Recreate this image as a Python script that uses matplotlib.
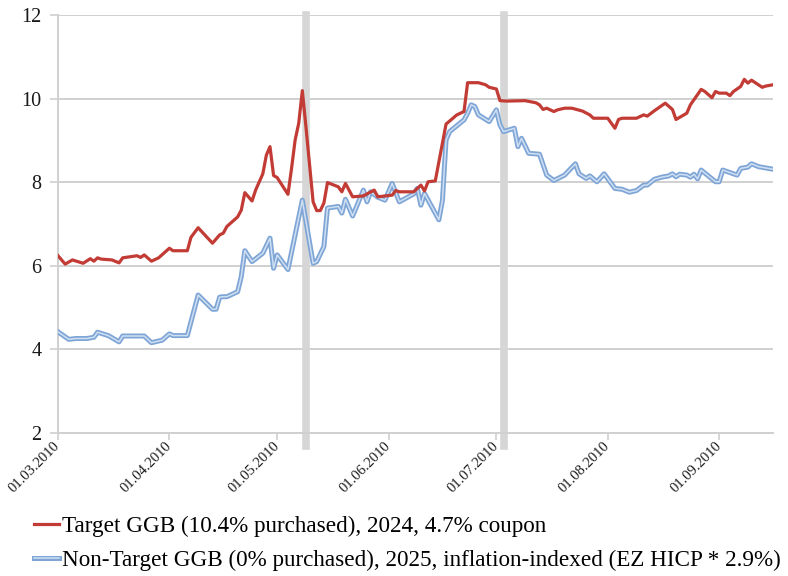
import matplotlib
matplotlib.use("Agg")
import matplotlib.pyplot as plt
import matplotlib.patheffects as pe
import pandas as pd

# ---- data ----
target_dates = [
    "2010-03-01", "2010-03-03", "2010-03-05", "2010-03-08", "2010-03-10", "2010-03-11",
    "2010-03-12", "2010-03-13", "2010-03-16", "2010-03-18", "2010-03-19", "2010-03-23",
    "2010-03-24", "2010-03-25", "2010-03-27", "2010-03-29", "2010-04-01", "2010-04-02",
    "2010-04-06", "2010-04-07", "2010-04-09", "2010-04-13", "2010-04-15", "2010-04-16",
    "2010-04-17", "2010-04-20", "2010-04-21", "2010-04-22", "2010-04-24", "2010-04-25",
    "2010-04-27", "2010-04-28", "2010-04-29", "2010-04-30", "2010-05-01", "2010-05-04",
    "2010-05-05", "2010-05-06", "2010-05-07", "2010-05-08", "2010-05-09", "2010-05-11",
    "2010-05-12", "2010-05-13", "2010-05-14", "2010-05-15", "2010-05-18", "2010-05-19",
    "2010-05-20", "2010-05-22", "2010-05-25", "2010-05-26", "2010-05-28", "2010-05-29",
    "2010-06-02", "2010-06-03", "2010-06-04", "2010-06-08", "2010-06-10", "2010-06-11",
    "2010-06-12", "2010-06-14", "2010-06-17", "2010-06-20", "2010-06-22", "2010-06-23",
    "2010-06-26", "2010-06-28", "2010-06-29", "2010-07-01", "2010-07-02", "2010-07-04",
    "2010-07-09", "2010-07-12", "2010-07-13", "2010-07-14", "2010-07-15", "2010-07-17",
    "2010-07-18", "2010-07-20", "2010-07-22", "2010-07-25", "2010-07-27", "2010-07-28",
    "2010-08-01", "2010-08-03", "2010-08-04", "2010-08-05", "2010-08-09", "2010-08-11",
    "2010-08-12", "2010-08-14", "2010-08-17", "2010-08-19", "2010-08-20", "2010-08-23",
    "2010-08-24", "2010-08-27", "2010-08-28", "2010-08-30", "2010-08-31", "2010-09-01",
    "2010-09-03", "2010-09-04", "2010-09-05", "2010-09-07", "2010-09-08", "2010-09-09",
    "2010-09-10", "2010-09-13", "2010-09-14", "2010-09-16",
]
target_yield = [
    6.24, 6.04, 6.14, 6.06, 6.17, 6.11,
    6.19, 6.16, 6.14, 6.07, 6.19, 6.24,
    6.20, 6.26, 6.11, 6.19, 6.42, 6.36,
    6.36, 6.68, 6.91, 6.54, 6.74, 6.78,
    6.94, 7.17, 7.33, 7.75, 7.55, 7.81,
    8.20, 8.65, 8.85, 8.16, 8.11, 7.71,
    8.33, 9.01, 9.41, 10.19, 9.33, 7.53,
    7.32, 7.32, 7.50, 7.99, 7.89, 7.77,
    7.97, 7.65, 7.67, 7.72, 7.81, 7.65,
    7.69, 7.80, 7.77, 7.77, 7.93, 7.79,
    8.01, 8.03, 9.39, 9.61, 9.69, 10.38,
    10.38, 10.33, 10.27, 10.23, 9.95, 9.94,
    9.95, 9.90, 9.85, 9.74, 9.77, 9.69,
    9.73, 9.77, 9.77, 9.70, 9.61, 9.53,
    9.53, 9.29, 9.50, 9.53, 9.53, 9.61,
    9.58, 9.71, 9.89, 9.74, 9.50, 9.65,
    9.85, 10.22, 10.17, 10.02, 10.17, 10.13,
    10.13, 10.07, 10.17, 10.29, 10.46, 10.37,
    10.44, 10.27, 10.30, 10.33,
]

nontarget_dates = [
    "2010-03-01", "2010-03-04", "2010-03-06", "2010-03-09", "2010-03-11", "2010-03-12",
    "2010-03-15", "2010-03-18", "2010-03-19", "2010-03-25", "2010-03-27", "2010-03-30",
    "2010-04-01", "2010-04-02", "2010-04-06", "2010-04-09", "2010-04-13", "2010-04-14",
    "2010-04-15", "2010-04-16", "2010-04-17", "2010-04-20", "2010-04-21", "2010-04-22",
    "2010-04-24", "2010-04-27", "2010-04-29", "2010-04-30", "2010-05-01", "2010-05-04",
    "2010-05-08", "2010-05-11", "2010-05-12", "2010-05-14", "2010-05-15", "2010-05-18",
    "2010-05-19", "2010-05-20", "2010-05-22", "2010-05-25", "2010-05-26", "2010-05-27",
    "2010-05-29", "2010-05-31", "2010-06-02", "2010-06-04", "2010-06-08", "2010-06-09",
    "2010-06-10", "2010-06-11", "2010-06-15", "2010-06-16", "2010-06-17", "2010-06-18",
    "2010-06-22", "2010-06-23", "2010-06-24", "2010-06-25", "2010-06-26", "2010-06-29",
    "2010-07-01", "2010-07-02", "2010-07-03", "2010-07-06", "2010-07-07", "2010-07-08",
    "2010-07-10", "2010-07-13", "2010-07-15", "2010-07-17", "2010-07-20", "2010-07-23",
    "2010-07-24", "2010-07-26", "2010-07-27", "2010-07-29", "2010-07-31", "2010-08-03",
    "2010-08-05", "2010-08-07", "2010-08-09", "2010-08-11", "2010-08-12", "2010-08-14",
    "2010-08-16", "2010-08-18", "2010-08-19", "2010-08-20", "2010-08-21", "2010-08-23",
    "2010-08-24", "2010-08-25", "2010-08-26", "2010-08-27", "2010-08-31", "2010-09-01",
    "2010-09-02", "2010-09-04", "2010-09-06", "2010-09-07", "2010-09-09", "2010-09-10",
    "2010-09-12", "2010-09-14", "2010-09-16",
]
nontarget_yield = [
    4.42, 4.24, 4.26, 4.26, 4.29, 4.41,
    4.33, 4.18, 4.32, 4.32, 4.16, 4.22,
    4.37, 4.33, 4.33, 5.30, 4.96, 4.96,
    5.25, 5.26, 5.26, 5.38, 5.74, 6.36,
    6.10, 6.30, 6.66, 5.94, 6.26, 5.91,
    7.57, 6.06, 6.10, 6.46, 7.38, 7.42,
    7.26, 7.59, 7.19, 7.81, 7.53, 7.77,
    7.64, 7.57, 7.97, 7.53, 7.72, 7.85,
    7.45, 7.73, 7.10, 7.57, 9.01, 9.21,
    9.49, 9.65, 9.85, 9.81, 9.61, 9.45,
    9.73, 9.37, 9.21, 9.29, 8.85, 9.05,
    8.69, 8.67, 8.17, 8.04, 8.17, 8.44,
    8.20, 8.09, 8.15, 8.01, 8.20, 7.85,
    7.83, 7.76, 7.80, 7.93, 7.93, 8.07,
    8.12, 8.15, 8.20, 8.13, 8.19, 8.17,
    8.12, 8.19, 8.08, 8.29, 8.01, 8.01,
    8.29, 8.23, 8.17, 8.33, 8.36, 8.44,
    8.37, 8.34, 8.31,
]

event_dates = ["2010-05-09", "2010-07-03"]
month_ticks = ["2010-03-01", "2010-04-01", "2010-05-01", "2010-06-01",
               "2010-07-01", "2010-08-01", "2010-09-01"]
x_range = ["2010-03-01", "2010-09-16"]
y_ticks = [2, 4, 6, 8, 10, 12]

label_target = "Target GGB (10.4% purchased), 2024, 4.7% coupon"
label_nontarget = "Non-Target GGB (0% purchased), 2025, inflation-indexed (EZ HICP * 2.9%)"

# ---- figure ----
plt.rcParams['font.family'] = ['Liberation Serif', 'DejaVu Serif']
fig = plt.figure(figsize=(7.88, 5.76), dpi=100)
ax = fig.add_axes([0.0736, 0.2483, 0.9074, 0.7257])

grid_c = '#d0d0d0'
td = pd.to_datetime(target_dates)
nd = pd.to_datetime(nontarget_dates)

for d in pd.to_datetime(event_dates):
    ax.axvline(d, ymin=-0.032, ymax=1.0, color='#d6d6d6', lw=5.5,
               clip_on=False, zorder=1)

ax.plot(td, target_yield, color='#C23B35', lw=2.3, zorder=4,
        solid_joinstyle='round', label=label_target)
ax.plot(nd, nontarget_yield, color='#CFDFF2', lw=1.1, zorder=3,
        solid_joinstyle='round', label=label_nontarget,
        path_effects=[pe.Stroke(linewidth=3.6, foreground='#7EA5D6'), pe.Normal()])

ax.set_xlim(pd.to_datetime(x_range[0]), pd.to_datetime(x_range[1]))
ax.set_ylim(2, 12)
ax.set_yticks(y_ticks)
ax.set_yticklabels([str(v) for v in y_ticks], fontsize=14.5)
ax.yaxis.grid(True, color=grid_c, lw=1.4, zorder=0)
ax.set_axisbelow(True)

mt = pd.to_datetime(month_ticks)
ax.set_xticks(mt)
ax.set_xticklabels([d.strftime('%d.%m.%Y') for d in mt], rotation=45,
                   ha='right', va='center', rotation_mode='anchor', fontsize=10.5)

for s in ['top', 'right']:
    ax.spines[s].set_visible(False)
for s in ['left', 'bottom']:
    ax.spines[s].set_color(grid_c)
    ax.spines[s].set_linewidth(1.4)
ax.tick_params(axis='x', length=5, width=1.2, color=grid_c, pad=3, labelcolor='#1a1a1a')
ax.tick_params(axis='y', length=6, width=1.2, color=grid_c, pad=6, labelcolor='#1a1a1a')

fig.legend(loc='upper left', bbox_to_anchor=(0.043, 0.105), frameon=False,
           fontsize=16.7, handlelength=1.1, handletextpad=0.12, labelspacing=0.56,
           borderpad=0, borderaxespad=0)

fig.savefig('out.png', dpi=100)
